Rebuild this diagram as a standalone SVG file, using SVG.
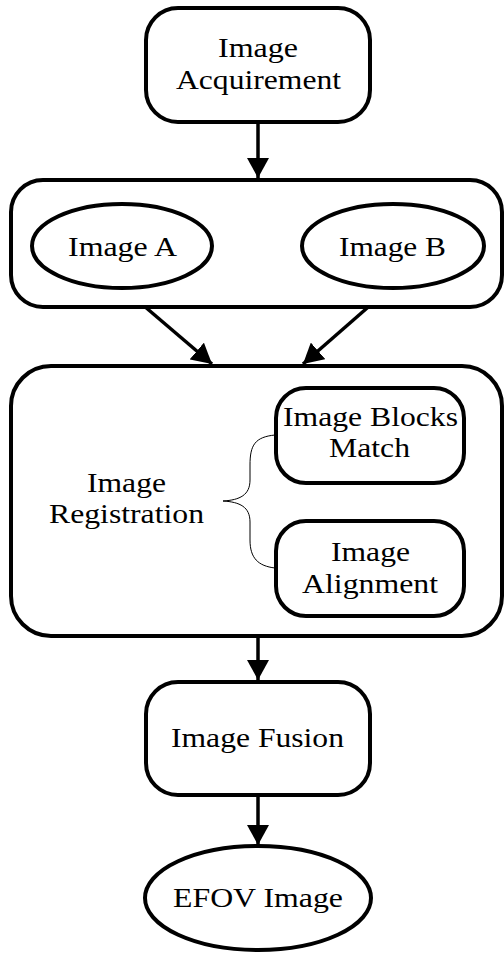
<svg xmlns="http://www.w3.org/2000/svg" width="504" height="953" viewBox="0 0 504 953">
<defs>
<style>
.box{fill:#fff;stroke:#000;stroke-width:4}
.t{font-family:"Liberation Serif","Times New Roman",serif;font-size:27px;fill:#000;text-anchor:middle}
.c{fill:none;stroke:#000;stroke-width:3.5}
.thin{fill:none;stroke:#555;stroke-width:1.8}
.brace{fill:none;stroke:#000;stroke-width:1}
</style>
<marker id="ah" markerUnits="userSpaceOnUse" viewBox="0 0 20 22" markerWidth="20" markerHeight="22" refX="20" refY="11" orient="auto">
<path d="M0,0 L20,11 L0,22 Z" fill="#000"/>
</marker>
<marker id="ahs" markerUnits="userSpaceOnUse" viewBox="0 0 14 17" markerWidth="14" markerHeight="17" refX="14" refY="8.5" orient="auto">
<path d="M0,0 L14,8.5 L0,17 Z" fill="#000"/>
</marker>
</defs>
<g id="connectors">
<line class="c" x1="258" y1="122" x2="258" y2="178" marker-end="url(#ah)"/>
<line class="c" x1="123" y1="288" x2="212" y2="364" marker-end="url(#ah)"/>
<line class="c" x1="390" y1="288" x2="303" y2="364" marker-end="url(#ah)"/>
<line class="thin" x1="370" y1="484" x2="370" y2="520" marker-end="url(#ahs)"/>
<line class="c" x1="258" y1="637" x2="258" y2="680" marker-end="url(#ah)"/>
<line class="c" x1="258" y1="796" x2="258" y2="845" marker-end="url(#ah)"/>
</g>
<g id="acquirement">
<rect class="box" x="146" y="8" width="224" height="114" rx="32"/>
<text class="t" x="258" y="57" textLength="80" lengthAdjust="spacingAndGlyphs">Image</text>
<text class="t" x="258.5" y="89" textLength="165" lengthAdjust="spacingAndGlyphs">Acquirement</text>
</g>
<g id="images">
<rect class="box" x="11" y="180" width="491" height="127" rx="32"/>
</g>
<g id="imageA">
<ellipse class="box" cx="122" cy="246" rx="90" ry="42"/>
<text class="t" x="122.5" y="256" textLength="109" lengthAdjust="spacingAndGlyphs">Image A</text>
</g>
<g id="imageB">
<ellipse class="box" cx="393" cy="246" rx="91" ry="42"/>
<text class="t" x="392.5" y="256" textLength="107" lengthAdjust="spacingAndGlyphs">Image B</text>
</g>
<g id="registration">
<rect class="box" x="11" y="366" width="491" height="270" rx="40"/>
<text class="t" x="126.5" y="492" textLength="79" lengthAdjust="spacingAndGlyphs">Image</text>
<text class="t" x="126.5" y="523" textLength="155" lengthAdjust="spacingAndGlyphs">Registration</text>
<path class="brace" d="M275,435 C255,437 250,445 250,465 L250,480 C250,495 240,500 223,501 C240,502 250,507 250,522 L250,540 C250,558 258,566 275,568"/>
</g>
<g id="blocksMatch">
<rect class="box" x="276" y="388" width="188" height="95" rx="30"/>
<text class="t" x="370.5" y="426" textLength="175" lengthAdjust="spacingAndGlyphs">Image Blocks</text>
<text class="t" x="369.5" y="457" textLength="81" lengthAdjust="spacingAndGlyphs">Match</text>
</g>
<g id="alignment">
<rect class="box" x="276" y="521" width="188" height="95" rx="30"/>
<text class="t" x="370.5" y="561" textLength="79" lengthAdjust="spacingAndGlyphs">Image</text>
<text class="t" x="370" y="593" textLength="136" lengthAdjust="spacingAndGlyphs">Alignment</text>
</g>
<g id="fusion">
<rect class="box" x="146" y="682" width="224" height="113" rx="32"/>
<text class="t" x="257.5" y="747" textLength="173" lengthAdjust="spacingAndGlyphs">Image Fusion</text>
</g>
<g id="efov">
<ellipse class="box" cx="258" cy="898" rx="113" ry="52"/>
<text class="t" x="258" y="907" textLength="170" lengthAdjust="spacingAndGlyphs">EFOV Image</text>
</g>
</svg>
